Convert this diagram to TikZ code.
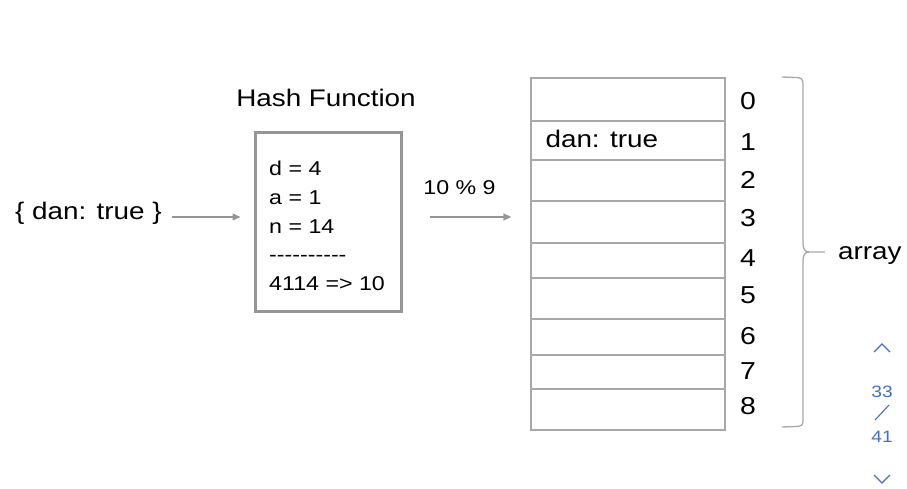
\documentclass[tikz,border=0pt]{standalone}
\usepackage{fontspec}
\setmainfont[FakeStretch=1.16,Ligatures=TeXOff]{Liberation Sans}
\usepackage{tikz}
\definecolor{boxgray}{RGB}{150,150,150}
\definecolor{linegray}{RGB}{168,168,168}
\definecolor{arrgray}{RGB}{150,150,150}
\definecolor{navblue}{RGB}{72,110,200}
\usetikzlibrary{arrows.meta}

\begin{document}
\begin{tikzpicture}[x=1pt,y=-1pt,
    big/.style={font=\fontsize{24}{29}\selectfont, inner sep=0pt},
    hashbox/.style={draw=boxgray, line width=3pt, minimum width=146pt, minimum height=178pt},
    calc/.style={align=left, inner sep=0pt, font=\fontsize{20}{28.75}\selectfont},
    cell/.style={draw=linegray, line width=1.3pt, minimum width=194pt, inner sep=0pt},
    idx/.style={font=\fontsize{24.5}{28}\selectfont, inner sep=0pt},
    arr/.style={draw=arrgray, line width=1.4pt, -{Triangle[length=8pt,width=7pt]}},
    brace/.style={draw=linegray, line width=1.3pt},
    nav/.style={text=navblue, font=\fontsize{16.5}{20}\selectfont, inner sep=0pt},
    navline/.style={draw=navblue, line width=1.1pt}
]
\useasboundingbox (0,0) rectangle (907,489);
\node[big, anchor=west] (key) at (15,213.5) {\{ dan: true \}};
\node[big] (title) at (326,98) {Hash Function};
\node[hashbox] (hash) at (328,222) {};
\node[calc, anchor=west] (steps) at (269,226) {d = 4\\ a = 1\\ n = 14\\ ----------\\ 4114 => 10};
\node[font=\fontsize{20}{24}\selectfont, inner sep=0pt] (mod) at (459.5,188) {10 \% 9};
\foreach \t/\b [count=\i from 0] in {78/121,121/160,160/201,201/243,243/278,278/319,319/355,355/389,389/430}
    \node[cell, minimum height={(\b-\t)*1pt}] (c\i) at (628,{(\t+\b)/2}) {};
\foreach \y [count=\i from 0] in {100.7,141.7,180,218,257.7,295,336,370.7,405.7}
    \node[idx] (n\i) at (748,\y) {\i};
\node[big, anchor=west] (entry) at ([xshift=15pt,yshift=1.5pt]c1.west) {dan: true};
\draw[arr, shorten <=10pt, shorten >=13pt] ([yshift=-3.5pt]key.east) -- ([yshift=5pt]hash.west);
\draw[arr, shorten <=27pt, shorten >=19pt] ([yshift=5pt]hash.east) -- ([yshift=5pt]hash.east -| c3.west);
\draw[brace] (782,77) -- (796,77.5) .. controls (801,77.5) and (803,79) .. (803,84) -- (803,243)
    .. controls (803,249) and (805,252) .. (809,252) -- (825,252);
\draw[brace] (809,252) .. controls (805,252) and (803,255) .. (803,261) -- (803,421)
    .. controls (803,425) and (801,426.5) .. (796,426.5) -- (782,427);
\node[big, anchor=west] (lbl) at (838,256) {array};
\node[nav] (pgA) at (882,392) {33};
\node[nav] (pgB) at (882,437) {41};
\draw[navline] (875,420) -- (889,405);
\draw[navline] (874,352) -- (882,344) -- (890,352);
\draw[navline] (874,475) -- (882,483) -- (890,475);
\end{tikzpicture}
\end{document}
